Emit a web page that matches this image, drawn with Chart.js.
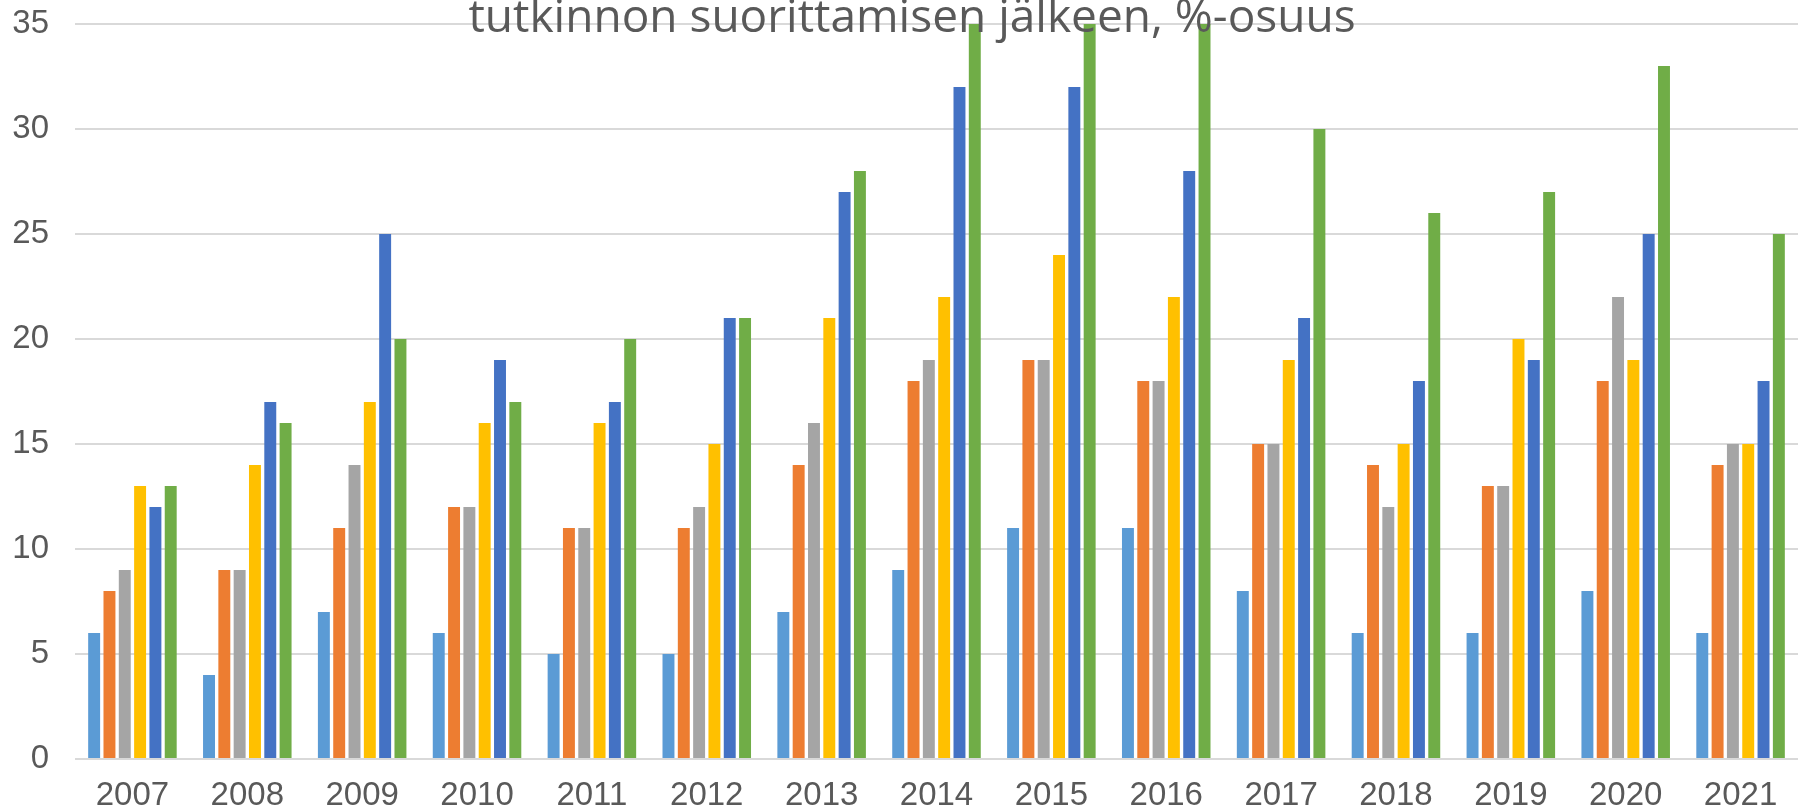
<!DOCTYPE html>
<html>
<head>
<meta charset="utf-8">
<script src="https://cdn.jsdelivr.net/npm/chart.js@4"></script>
<style>
  html, body { margin: 0; padding: 0; background: #fff; overflow: hidden; }
  canvas { display: block; }
</style>
</head>
<body>
<canvas id="chart" width="1798" height="810"></canvas>
<script>
// Data
const years = ["2007", "2008", "2009", "2010", "2011", "2012", "2013", "2014", "2015", "2016", "2017", "2018", "2019", "2020", "2021"];
const series1 = [6, 4, 7, 6, 5, 5, 7, 9, 11, 11, 8, 6, 6, 8, 6];
const series2 = [8, 9, 11, 12, 11, 11, 14, 18, 19, 18, 15, 14, 13, 18, 14];
const series3 = [9, 9, 14, 12, 11, 12, 16, 19, 19, 18, 15, 12, 13, 22, 15];
const series4 = [13, 14, 17, 16, 16, 15, 21, 22, 24, 22, 19, 15, 20, 19, 15];
const series5 = [12, 17, 25, 19, 17, 21, 27, 32, 32, 28, 21, 18, 19, 25, 18];
const series6 = [13, 16, 20, 17, 20, 21, 28, 35, 35, 35, 30, 26, 27, 33, 25];
const seriesColors = ["#5B9BD5", "#ED7D31", "#A5A5A5", "#FFC000", "#4472C4", "#70AD47"];
const titleText = "tutkinnon suorittamisen jälkeen, %-osuus";

// Title sits over the top of the plot (second line of the original title)
const overlayTitle = {
  id: "overlayTitle",
  afterDatasetsDraw(chart, args, opts) {
    const ctx = chart.ctx;
    ctx.save();
    ctx.font = opts.font;
    ctx.fillStyle = opts.color;
    ctx.textAlign = "center";
    ctx.textBaseline = "alphabetic";
    ctx.fillText(opts.text, opts.x, opts.y);
    ctx.restore();
  }
};

const allSeries = [series1, series2, series3, series4, series5, series6];

new Chart(document.getElementById("chart"), {
  type: "bar",
  data: {
    labels: years,
    datasets: allSeries.map((s, i) => ({
      label: "Sarja " + (i + 1),
      data: s,
      backgroundColor: seriesColors[i],
      categoryPercentage: 0.8,
      barPercentage: 0.78
    }))
  },
  options: {
    responsive: false,
    animation: false,
    layout: { padding: { left: 12, right: 0, top: 24, bottom: 0 } },
    plugins: {
      legend: { display: false },
      tooltip: { enabled: false },
      overlayTitle: {
        text: titleText,
        font: "46px 'Open Sans'",
        color: "#595959",
        x: 912,
        y: 32
      }
    },
    scales: {
      x: {
        grid: { display: false },
        border: { display: false },
        afterFit(scale) {
          scale.height = 51;
          scale.paddingLeft = 0;
          scale.paddingRight = 0;
        },
        ticks: {
          color: "#595959",
          font: { family: "'Liberation Sans', Arial", size: 33, lineHeight: 1 },
          padding: 12,
          maxRotation: 0
        }
      },
      y: {
        min: 0,
        max: 35,
        grid: { color: "#D9D9D9", lineWidth: 2, drawTicks: false },
        border: { display: false },
        afterFit(scale) {
          scale.width = 63;
          scale.paddingTop = 0;
          scale.paddingBottom = 0;
        },
        ticks: {
          stepSize: 5,
          color: "#595959",
          font: { family: "'Liberation Sans', Arial", size: 33 },
          padding: 26
        }
      }
    }
  },
  plugins: [overlayTitle]
});
</script>
</body>
</html>
